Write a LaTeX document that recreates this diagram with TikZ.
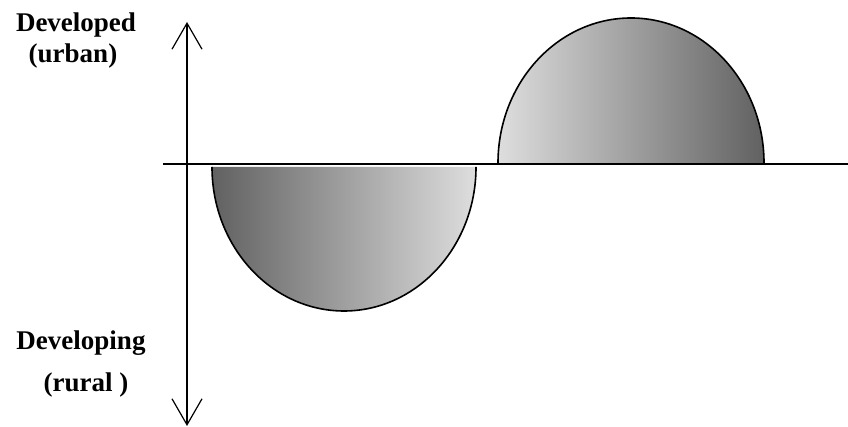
\documentclass[tikz,border=0pt]{standalone}
\usepackage{fontspec}
\setmainfont{Liberation Serif}
\usetikzlibrary{arrows.meta}

\begin{document}
\begin{tikzpicture}[x=1pt,y=1pt,
  axis/.style={line width=1.4pt},
  tag/.style={inner sep=0pt,anchor=base,font=\fontsize{27}{30}\selectfont\bfseries},
  lobe/.style={line width=1.6pt}]
\useasboundingbox (0,0) rectangle (848,427);

\coordinate (top) at (187,405);
\coordinate (bot) at (187,1);
\coordinate (west) at (163,263);
\coordinate (east) at (848,263);

\node[tag] (dev) at (76,395) {Developed};
\node[tag] (urban) at (73,364) {(urban)};
\node[tag] (devng) at (81,77) {Developing};
\node[tag] (rural) at (86,35) {(rural )};

% lower and upper half discs
\draw[lobe,left color=black!62,right color=black!13] (212,260)
  arc[start angle=180,end angle=360,x radius=132,y radius=144];
\draw[lobe,left color=black!13,right color=black!62] (498,264)
  arc[start angle=180,end angle=0,x radius=133,y radius=145];

\draw[axis] (west) -- (east);
\draw[axis,{Straight Barb[length=26pt,width=30pt,line width=1.2pt]}-{Straight Barb[length=26pt,width=30pt,line width=1.2pt]}] (top) -- (bot);
\end{tikzpicture}
\end{document}
